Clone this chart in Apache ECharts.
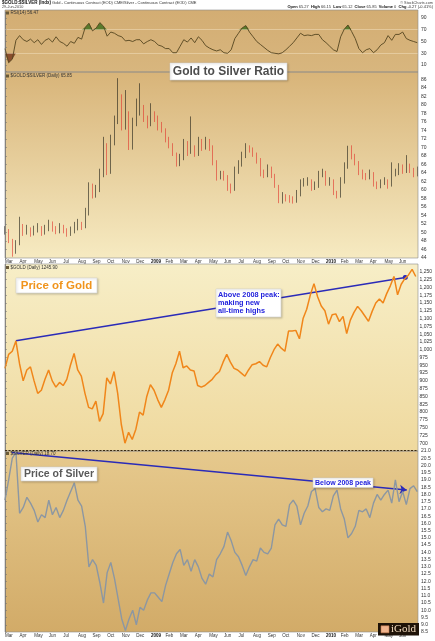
<!DOCTYPE html>
<html>
<head>
<meta charset="utf-8">
<script src="https://cdn.jsdelivr.net/npm/echarts@6/dist/echarts.min.js"></script>
<style>
html, body { margin: 0; padding: 0; background: #fff; }
#chart { width: 435px; height: 641px; }
</style>
</head>
<body>
<div id="chart"></div>
<script>
// samples every quarter month, x = 0 is 1 Mar 2008
const step = 0.25
const monthLabels = ['Mar', 'Apr', 'May', 'Jun', 'Jul', 'Aug', 'Sep', 'Oct', 'Nov', 'Dec',
  '2009', 'Feb', 'Mar', 'Apr', 'May', 'Jun', 'Jul', 'Aug', 'Sep', 'Oct', 'Nov', 'Dec',
  '2010', 'Feb', 'Mar', 'Apr', 'May', 'Jun', '']

const rsi = [38, 14, 20, 52, 60, 53, 50, 54, 48, 53,
  45, 52, 55, 49, 58, 50, 47, 42, 50, 47,
  57, 54, 74, 81, 68, 73, 82, 76, 59, 66,
  64, 60, 58, 51, 52, 50, 53, 53, 46, 50,
  53, 50, 44, 42, 38, 38, 31, 31, 42, 53,
  49, 56, 48, 58, 52, 43, 39, 36, 34, 36,
  31, 30, 36, 55, 64, 73, 77, 66, 58, 50,
  45, 40, 35, 31, 30, 29, 31, 36, 42, 48,
  56, 64, 60, 61, 60, 62, 62, 53, 48, 42,
  36, 33, 58, 71, 78, 67, 55, 38, 31, 36,
  38, 31, 36, 44, 48, 60, 52, 62, 62, 66,
  55, 52, 50, 48]

const ratioClose = [50.5, 48.0, 45.5, 47.5, 51.5, 50.0, 50.8, 49.8, 50.6, 51.2,
  50.0, 50.8, 52.0, 51.0, 50.3, 51.3, 50.5, 49.8, 50.4, 51.0,
  52.0, 51.3, 54.5, 60.5, 59.0, 60.0, 63.5, 70.5, 64.5, 71.5,
  76.0, 82.0, 75.0, 78.0, 70.0, 75.5, 79.0, 79.5, 77.0, 75.5,
  77.5, 77.0, 75.0, 74.5, 72.0, 70.5, 68.8, 66.0, 67.5, 71.0,
  69.0, 69.5, 68.5, 71.5, 70.0, 71.5, 70.0, 66.5, 63.0, 63.5,
  63.0, 60.5, 60.0, 64.5, 66.0, 68.0, 70.0, 69.5, 68.5, 67.0,
  64.0, 63.5, 65.0, 63.5, 61.0, 57.5, 58.5, 58.0, 57.6, 57.5,
  59.0, 61.5, 61.5, 62.0, 60.5, 61.0, 63.5, 64.0, 61.5, 62.0,
  59.2, 58.5, 62.0, 65.5, 70.0, 68.0, 66.5, 64.2, 63.2, 63.0,
  63.8, 61.5, 60.8, 61.5, 62.0, 61.0, 63.5, 64.0, 65.5, 64.5,
  66.0, 64.7, 63.8, 64.8]

const ratioHigh = [51.5, 50.8, 48.5, 48.2, 53.7, 52.0, 51.8, 51.2, 51.6, 52.2,
  51.5, 51.8, 53.0, 52.6, 51.5, 52.2, 51.8, 51.0, 51.4, 52.5,
  53.2, 52.5, 55.8, 61.8, 61.5, 61.2, 65.0, 72.5, 71.0, 73.0,
  77.5, 86.3, 82.5, 83.5, 78.5, 77.0, 81.5, 85.1, 80.0, 77.5,
  80.4, 78.5, 77.5, 76.0, 74.5, 72.5, 71.0, 68.6, 68.5, 72.0,
  71.5, 77.3, 70.5, 72.5, 72.0, 72.5, 72.0, 70.5, 67.0, 64.5,
  64.5, 63.5, 61.5, 65.5, 67.0, 69.0, 71.0, 70.5, 70.0, 68.8,
  67.5, 64.8, 66.0, 65.5, 63.8, 61.2, 59.5, 59.0, 58.8, 58.5,
  60.0, 62.5, 62.8, 63.0, 62.5, 62.0, 64.5, 65.0, 64.5, 63.0,
  62.5, 59.8, 63.0, 66.5, 70.4, 70.5, 68.5, 66.8, 64.8, 64.0,
  64.8, 64.2, 62.0, 62.5, 63.0, 62.5, 66.5, 65.0, 66.3, 66.0,
  68.2, 66.2, 65.2, 65.5]

const ratioLow = [49.5, 47.5, 44.3, 45.0, 47.0, 49.2, 49.5, 49.0, 49.3, 50.0,
  49.2, 49.5, 50.3, 50.2, 49.6, 49.8, 49.8, 49.0, 49.2, 49.8,
  50.5, 50.6, 51.0, 54.0, 58.0, 58.2, 59.5, 63.0, 63.5, 63.8,
  70.5, 75.5, 74.0, 74.2, 69.4, 69.5, 75.0, 77.5, 76.0, 74.5,
  75.0, 76.0, 74.0, 73.5, 71.2, 69.8, 68.0, 65.5, 65.6, 67.0,
  68.0, 68.5, 67.8, 68.0, 69.2, 69.5, 69.2, 65.8, 62.2, 62.5,
  62.2, 59.8, 59.2, 59.8, 63.8, 65.5, 67.5, 68.8, 67.8, 66.2,
  63.2, 62.8, 63.0, 62.8, 60.5, 56.9, 56.8, 57.3, 57.0, 56.8,
  57.0, 58.5, 60.8, 61.0, 59.8, 60.0, 60.5, 63.0, 61.0, 61.0,
  58.8, 58.0, 58.2, 61.5, 65.0, 67.2, 65.8, 63.5, 62.5, 62.3,
  62.5, 60.8, 60.2, 60.4, 61.2, 60.3, 60.8, 63.2, 63.5, 63.8,
  64.0, 64.0, 63.0, 63.2]

const goldPrice = [940, 985, 995, 1028, 955, 900, 935, 945, 900, 860,
  870, 905, 935, 900, 880, 895, 885, 905, 950, 988,
  935, 915, 860, 815, 810, 835, 770, 795, 910, 890,
  930, 860, 760, 700, 735, 712, 745, 800, 790, 850,
  888, 870, 840, 815, 840, 870, 925, 955, 995, 942,
  948, 935, 932, 885, 880, 885, 895, 905, 920, 930,
  960, 985, 960, 940, 935, 925, 915, 935, 952, 955,
  962, 950, 945, 975, 1000, 1018, 1005, 995, 1060, 1060,
  1062, 1035, 1100, 1130, 1176, 1212, 1170, 1140, 1125, 1082,
  1112, 1115, 1090, 1107, 1052, 1095, 1120, 1139, 1125, 1108,
  1091, 1123, 1150, 1163, 1150, 1180, 1205, 1235, 1176, 1210,
  1228, 1240, 1258, 1235]

const silverPrice = [17.6, 19.0, 20.5, 20.9, 16.7, 17.1, 17.8, 17.4, 16.9, 16.1,
  16.6, 16.4, 17.6, 16.6, 17.1, 16.4, 16.9, 17.6, 18.2, 18.8,
  17.6, 17.2, 15.8, 13.0, 13.5, 13.1, 11.9, 10.5, 12.6, 13.3,
  12.2, 10.8, 9.4, 8.6, 9.4, 10.0, 9.0, 10.2, 10.0, 10.7,
  11.2, 11.2, 10.9, 10.6, 11.7, 12.5, 13.3, 13.9, 14.2, 13.1,
  13.5, 12.7, 13.5, 13.0, 12.2, 11.8, 12.5, 12.3, 13.5, 13.9,
  14.4, 15.4, 14.8, 14.0, 13.7, 13.1, 12.4, 13.0, 13.5, 13.4,
  14.3, 14.0, 13.9, 14.3, 15.9, 16.3, 15.9, 15.8, 17.3, 17.6,
  17.2, 15.9, 16.7, 17.2, 18.2, 18.4, 17.1, 16.8, 17.0, 16.9,
  17.9, 18.3, 17.0, 16.3, 15.0, 15.3, 15.8, 16.9, 16.8, 17.0,
  16.4, 17.4, 18.0, 17.6, 18.0, 18.3, 17.4, 19.0, 17.5, 18.2,
  17.3, 18.4, 18.6, 18.2]

// hand drawn trend lines: [month, price]
const goldTrend = [[0.75, 1029], [27.53, 1232]]
const silverTrend = [[0.46, 20.9], [27.53, 18.3]]

const FONT = '"Liberation Sans", Arial, sans-serif'
const xy = arr => arr.map((v, i) => [i * step, v])

const ratioCandles = ratioClose.map((c, i) => {
  const o = i ? ratioClose[i - 1] : c
  return [i * step, o, c, Math.min(ratioLow[i], o, c), Math.max(ratioHigh[i], o, c)]
})

const grids = [
  { left: 5, right: 17, top: 12, height: 59 }, // rsi
  { left: 5, right: 17, top: 72, height: 186 }, // ratio
  { left: 5, right: 17, top: 264, height: 187 }, // gold
  { left: 5, right: 17, top: 451, height: 181 } // silver
]

function xAxisFor(gridIndex, showLabels) {
  return {
    type: 'value',
    gridIndex: gridIndex,
    min: 0,
    max: 28.3,
    interval: 1,
    axisLine: { show: false },
    axisTick: { show: false },
    splitLine: { show: false },
    axisLabel: {
      show: showLabels,
      margin: 1.5,
      align: 'left',
      fontSize: 4.5,
      color: '#333',
      fontFamily: FONT,
      showMaxLabel: false,
      formatter: function(v) {
        const s = monthLabels[Math.round(v)] || ''
        return /^\d+$/.test(s) ? '{y|' + s + '}' : s
      },
      rich: { y: { fontWeight: 'bold', fontSize: 4.5, color: '#111', fontFamily: FONT } }
    }
  }
}

function yAxisFor(gridIndex, min, max, interval, formatter, extra) {
  return Object.assign({
    type: 'value',
    gridIndex: gridIndex,
    position: 'right',
    min: min,
    max: max,
    interval: interval,
    axisLine: { show: true, lineStyle: { color: '#6d6d6d', width: 0.8 } },
    axisTick: { show: true, length: 2, lineStyle: { color: '#6d6d6d', width: 0.5 } },
    splitLine: { show: false },
    axisLabel: {
      margin: 3,
      fontSize: 5,
      color: '#333',
      fontFamily: FONT,
      formatter: formatter
    }
  }, extra || {})
}

function panelBg(y, h, c1, c2) {
  return {
    type: 'rect', z: -10, silent: true,
    shape: { x: 5, y: y, width: 413, height: h },
    style: { fill: new echarts.graphic.LinearGradient(0, 0, 0, 1, [{ offset: 0, color: c1 }, { offset: 1, color: c2 }]) }
  }
}

function frame(y, h) {
  return { type: 'rect', z: 50, silent: true, shape: { x: 5, y: y, width: 413, height: h }, style: { fill: 'none', stroke: '#8c8c8c', lineWidth: 0.6 } }
}

function label(x, y, w, h, text, font, color, align) {
  return [
    { type: 'rect', z: 100, silent: true, shape: { x: x, y: y, width: w, height: h },
      style: { fill: '#fff', stroke: '#d4d4d4', lineWidth: 0.6, shadowBlur: 2, shadowColor: 'rgba(0,0,0,0.2)', shadowOffsetX: 1, shadowOffsetY: 1 } },
    { type: 'text', z: 101, silent: true,
      style: { text: text, x: align === 'left' ? x + 2 : x + w / 2, y: y + h / 2, align: align || 'center', verticalAlign: 'middle', font: font, fill: color, lineHeight: 8.3 } }
  ]
}

function legend(y, text) {
  return [
    { type: 'rect', z: 60, silent: true, shape: { x: 6, y: y - 1.5, width: 3, height: 3 }, style: { fill: '#6a5a38' } },
    { type: 'text', z: 60, silent: true, style: { text: text, x: 10.5, y: y, verticalAlign: 'middle', font: '4.5px ' + FONT, fill: '#333' } }
  ]
}

const graphics = [
  panelBg(10, 62, '#d3ad73', '#d8b67e'),
  panelBg(72, 186, '#d8b479', '#f6eac1'),
  panelBg(264, 187, '#f7eec7', '#efd99e'),
  panelBg(451, 181, '#e6c98d', '#d2ab68'),
  frame(10, 62), frame(72, 186), frame(264, 187), frame(451, 181),
  { type: 'line', z: 55, silent: true, shape: { x1: 5, y1: 450.5, x2: 418, y2: 450.5 },
    style: { stroke: '#3b2a10', lineWidth: 1.2, lineDash: [2, 1.5] } },
  // header
  { type: 'text', silent: true, style: {
    text: '{b|$GOLD:$SILVER (Indx)} Gold - Continuous Contract (EOD) CME/Silver - Continuous Contract (EOD) CME',
    x: 2, y: 3, verticalAlign: 'middle', font: '4px ' + FONT, fill: '#333',
    rich: { b: { fontWeight: 'bold', fontSize: 4.5, fontFamily: FONT, fill: '#111' } } } },
  { type: 'text', silent: true, style: { text: '29-Jun-2010', x: 2, y: 7.3, verticalAlign: 'middle', font: '3.8px ' + FONT, fill: '#444' } },
  { type: 'text', silent: true, style: { text: '\u00a9 StockCharts.com', x: 433, y: 3, align: 'right', verticalAlign: 'middle', font: '3.8px ' + FONT, fill: '#444' } },
  { type: 'text', silent: true, style: {
    text: '{b|Open} 65.27  {b|High} 66.15  {b|Low} 65.12  {b|Close} 65.85  {b|Volume} 0  {b|Chg} -0.27 (-0.41%)',
    x: 433, y: 7.3, align: 'right', verticalAlign: 'middle', font: '4px ' + FONT, fill: '#333',
    rich: { b: { fontWeight: 'bold', fontSize: 4, fontFamily: FONT, fill: '#111' } } } }
]
  .concat(legend(13, 'RSI(14) 56.47'))
  .concat(legend(76, '$GOLD:$SILVER (Daily) 65.85'))
  .concat(legend(267.5, '$GOLD (Daily) 1245.90'))
  .concat(legend(453.5, '$SILVER (Daily) 18.70'))
  .concat(label(170, 63, 117, 17, 'Gold to Silver Ratio', 'bold 12px ' + FONT, '#4d4d4d'))
  .concat(label(16, 278, 81, 15, 'Price of Gold', 'bold 11.5px ' + FONT, '#f0941c'))
  .concat(label(216, 289, 65, 28, 'Above 2008 peak:\nmaking new\nall-time highs', 'bold 7.3px ' + FONT, '#2323dc', 'left'))
  .concat(label(21, 467, 76, 14, 'Price of Silver', 'bold 10.5px ' + FONT, '#5a5a5a'))
  .concat(label(313, 478, 60, 9.5, 'Below 2008 peak', 'bold 7px ' + FONT, '#2323dc'))
  .concat([
    { type: 'rect', z: 100, silent: true, shape: { x: 378, y: 623, width: 41, height: 12.5 }, style: { fill: '#1f1308' } },
    { type: 'rect', z: 101, silent: true, shape: { x: 381, y: 625.8, width: 8, height: 7 }, style: { fill: '#f1b48e', stroke: '#c47a4e', lineWidth: 0.6 } },
    { type: 'text', z: 101, silent: true, style: { text: 'iGold', x: 391, y: 629.5, verticalAlign: 'middle', font: '11px "Liberation Serif", serif', fill: '#f3dcc0' } }
  ])

const chart = echarts.init(document.getElementById('chart'), null, { renderer: 'canvas' })
chart.setOption({
  animation: false,
  backgroundColor: '#fff',
  grid: grids,
  graphic: graphics,
  xAxis: [xAxisFor(0, false), xAxisFor(1, true), xAxisFor(2, false), xAxisFor(3, true)],
  yAxis: [
    yAxisFor(0, 0, 100, 10, function(v) { return (v % 20 === 10) ? String(v) : '' }, {}),
    yAxisFor(1, 44, 87.75, 2, function(v) { return String(v) }, { axisLabel: { margin: 3, fontSize: 5, color: '#333', fontFamily: FONT, showMaxLabel: false } }),
    yAxisFor(2, 675, 1275, 25, function(v) { return String(v) }, { axisLabel: { margin: 3, fontSize: 5, color: '#333', fontFamily: FONT, showMaxLabel: false, showMinLabel: false } }),
    yAxisFor(3, 8.5, 21, 0.5, function(v) { return v.toFixed(1) }, {})
  ],
  series: [
    {
      name: 'RSI above 70',
      type: 'line', xAxisIndex: 0, yAxisIndex: 0, silent: true, z: 3,
      data: xy(rsi.map(v => Math.max(v, 70))),
      symbol: 'none', lineStyle: { width: 0 },
      areaStyle: { origin: 70, color: '#587a2c', opacity: 1 }
    },
    {
      name: 'RSI below 30',
      type: 'line', xAxisIndex: 0, yAxisIndex: 0, silent: true, z: 3,
      data: xy(rsi.map(v => Math.min(v, 30))),
      symbol: 'none', lineStyle: { width: 0 },
      areaStyle: { origin: 30, color: '#8a4e2c', opacity: 1 }
    },
    {
      name: 'RSI',
      type: 'line', xAxisIndex: 0, yAxisIndex: 0, z: 5,
      data: xy(rsi),
      symbol: 'none',
      lineStyle: { color: '#55451f', width: 0.9 },
      markLine: {
        silent: true, symbol: 'none', label: { show: false },
        lineStyle: { color: 'rgba(255,245,220,0.45)', type: 'solid', width: 0.8 },
        data: [{ yAxis: 70 }, { yAxis: 30 }]
      }
    },
    {
      name: 'Gold:Silver',
      type: 'candlestick', xAxisIndex: 1, yAxisIndex: 1,
      data: ratioCandles,
      encode: { x: 0, y: [1, 2, 3, 4] },
      barWidth: 1.3,
      itemStyle: { color: '#1c1c14', color0: '#e0302a', borderColor: '#1c1c14', borderColor0: '#e0302a', borderWidth: 0.6 }
    },
    {
      name: 'Gold',
      type: 'line', xAxisIndex: 2, yAxisIndex: 2, z: 5,
      data: xy(goldPrice),
      symbol: 'none',
      lineStyle: { color: '#f0861a', width: 1.5 },
      markLine: {
        silent: true, symbol: ['none', 'circle'], symbolSize: 5, label: { show: false },
        lineStyle: { color: '#2b2bb8', width: 1.5, type: 'solid' },
        data: [[{ coord: goldTrend[0] }, { coord: goldTrend[1] }]]
      }
    },
    {
      name: 'Silver',
      type: 'line', xAxisIndex: 3, yAxisIndex: 3, z: 5,
      data: xy(silverPrice),
      symbol: 'none',
      lineStyle: { color: '#8c97a2', width: 1.4 },
      markLine: {
        silent: true, symbol: ['none', 'arrow'], symbolSize: 7, label: { show: false },
        lineStyle: { color: '#2b2bb8', width: 1.5, type: 'solid' },
        data: [[{ coord: silverTrend[0] }, { coord: silverTrend[1] }]]
      }
    }
  ]
})
</script>
</body>
</html>
